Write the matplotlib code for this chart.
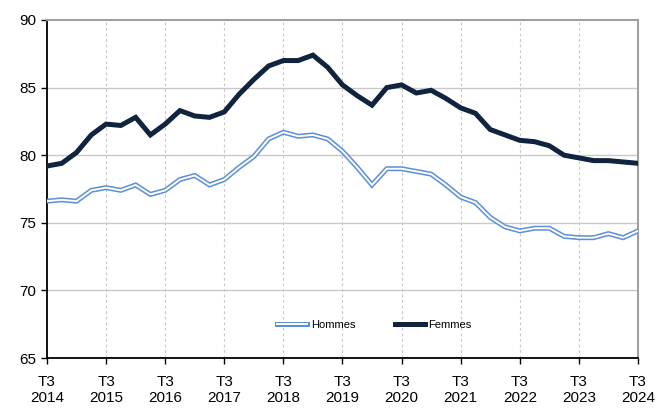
import matplotlib
matplotlib.use("Agg")
import matplotlib.pyplot as plt

plt.rcParams['font.family'] = ['Liberation Sans Narrow', 'Liberation Sans', 'DejaVu Sans']

years = list(range(2014, 2025))
tick_labels = ["T3\n%d" % y for y in years]

# quarterly values, T3 2014 -> T3 2024
femmes = [79.2, 79.4, 80.2, 81.5, 82.3, 82.2, 82.8, 81.5, 82.3, 83.3,
          82.9, 82.8, 83.2, 84.5, 85.6, 86.6, 87.0, 87.0, 87.4, 86.5,
          85.2, 84.4, 83.7, 85.0, 85.2, 84.6, 84.8, 84.2, 83.5, 83.1,
          81.9, 81.5, 81.1, 81.0, 80.7, 80.0, 79.8, 79.6, 79.6, 79.5, 79.4]
hommes = [76.6, 76.7, 76.6, 77.4, 77.6, 77.4, 77.8, 77.1, 77.4, 78.2,
          78.5, 77.8, 78.2, 79.1, 79.9, 81.2, 81.7, 81.4, 81.5, 81.2,
          80.3, 79.1, 77.8, 79.0, 79.0, 78.8, 78.6, 77.8, 76.9, 76.5,
          75.4, 74.7, 74.4, 74.6, 74.6, 74.0, 73.9, 73.9, 74.2, 73.9, 74.4]

x = list(range(len(femmes)))

fig = plt.figure(figsize=(6.57, 4.08), dpi=100)
ax = fig.add_axes([0.0715, 0.1225, 0.8995, 0.8285])

blue = "#5b8fd6"
navy = "#10243f"

h_out, = ax.plot(x, hommes, color=blue, lw=3.6, solid_joinstyle="miter", zorder=3)
h_in, = ax.plot(x, hommes, color="white", lw=1.4, solid_joinstyle="miter", zorder=4)
f_line, = ax.plot(x, femmes, color=navy, lw=3.6, solid_joinstyle="miter", zorder=5)

ax.set_xlim(0, 40)
ax.set_ylim(65, 90)
ax.set_yticks(range(65, 91, 5))
ax.set_xticks(range(0, 41, 4))
ax.set_xticklabels(tick_labels)

for y in range(70, 90, 5):
    ax.axhline(y, color="#c8c8c8", lw=1.0, zorder=1)
for t in range(4, 40, 4):
    ax.axvline(t, color="#c8c8c8", lw=0.8, ls=(0, (2.5, 2.5)), zorder=1)

ax.spines["left"].set_color("black")
ax.spines["bottom"].set_color("black")
ax.spines["left"].set_linewidth(1.3)
ax.spines["bottom"].set_linewidth(1.3)
ax.spines["top"].set_color("#a0a0a0")
ax.spines["right"].set_color("#a0a0a0")
ax.spines["top"].set_linewidth(1.5)
ax.spines["right"].set_linewidth(1.5)

ax.tick_params(axis="both", direction="out", length=4, width=1, labelsize=11)
ax.tick_params(axis="x", pad=8)

leg = ax.legend([(h_out, h_in), f_line], ["Hommes", "Femmes"], ncol=2,
                loc="center left", bbox_to_anchor=(0.39, 0.098), frameon=False,
                fontsize=8, handlelength=2.7, handletextpad=0.3,
                columnspacing=3.6, borderpad=0, borderaxespad=0)

fig.savefig("out.png", dpi=100)
